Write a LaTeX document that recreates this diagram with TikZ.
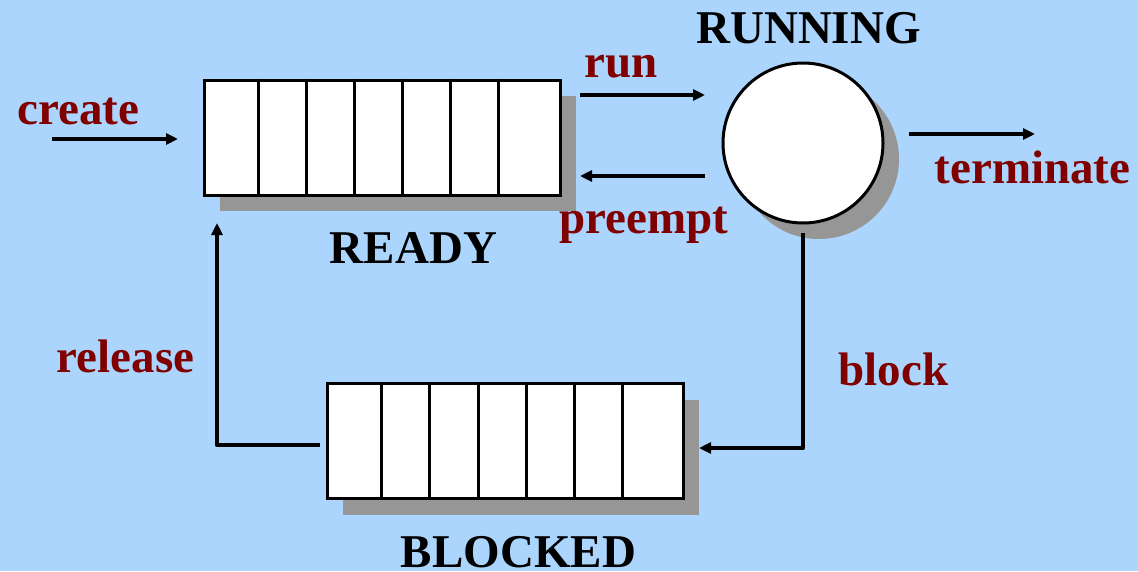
\documentclass[tikz,border=0pt]{standalone}
\usepackage{fontspec}
\setmainfont{Liberation Serif}
\usetikzlibrary{arrows.meta,shadows}
\definecolor{bgc}{RGB}{171,213,253}
\definecolor{lblc}{RGB}{128,0,0}
\definecolor{shadc}{RGB}{150,150,150}
\begin{document}
\begin{tikzpicture}[x=1pt,y=-1pt,
  conn/.style={line width=4.6pt,line join=round,-{Triangle[length=12pt,width=11pt]}},
  shad/.style={drop shadow={shadow xshift=16pt,shadow yshift=-16pt,fill=shadc,opacity=1}},
  queue/.style={draw,line width=3pt,fill=white,minimum width=356pt,minimum height=115pt,inner sep=0pt,shad},
  cell/.style={line width=3pt},
  lbl/.style={text=lblc,font=\fontsize{47}{56}\selectfont\bfseries,anchor=base,inner sep=0pt},
  ttl/.style={text=black,font=\fontsize{47}{56}\selectfont\bfseries,anchor=base,inner sep=0pt}]
\fill[bgc] (0,0) rectangle (1138,571);
\useasboundingbox (0,0) rectangle (1138,571);

% queues and processor
\node[queue] (ready) at (382,137.5) {};
\foreach \x in {258,306,354,402,450,498}
  \draw[cell] (\x,0 |- ready.north) -- (\x,0 |- ready.south);
\node[queue] (blocked) at (505,441) {};
\foreach \x in {381,429,478,526,574,622}
  \draw[cell] (\x,0 |- blocked.north) -- (\x,0 |- blocked.south);
\node[circle,draw,line width=3pt,fill=white,minimum size=160pt,inner sep=0pt,shad] (running) at (803,143) {};

% titles
\node[ttl] (tready) at (413.5,263) {READY};
\node[ttl] (tblocked) at (518.5,567) {BLOCKED};
\node[ttl] (trunning) at (808.5,43) {RUNNING};

% connector end points
\coordinate (cs) at (52,139);
\coordinate (ce) at (178,139);
\coordinate (rs) at (580,95);
\coordinate (re) at (705,95);
\coordinate (ps) at (705,176);
\coordinate (pe) at (580,176);
\coordinate (ts) at (909,134);
\coordinate (te) at (1035,134);
\coordinate (bs) at (803,233);
\coordinate (be) at (699,448);
\coordinate (ls) at (320,445);
\coordinate (le) at (217,223);

% connectors
\draw[conn] (cs) -- (ce);
\draw[conn] (rs) -- (re);
\draw[conn] (ps) -- (pe);
\draw[conn] (ts) -- (te);
\draw[conn] (bs) |- (be);
\draw[conn] (ls) -| (le);

% labels
\node[lbl] (lcreate) at (78.5,124) {create};
\node[lbl] (lrun) at (621,77) {run};
\node[lbl] (lpreempt) at (644,233) {preempt};
\node[lbl] (lterm) at (1032.5,183) {terminate};
\node[lbl] (lrelease) at (125.5,372) {release};
\node[lbl] (lblock) at (893.5,385) {block};
\end{tikzpicture}
\end{document}
